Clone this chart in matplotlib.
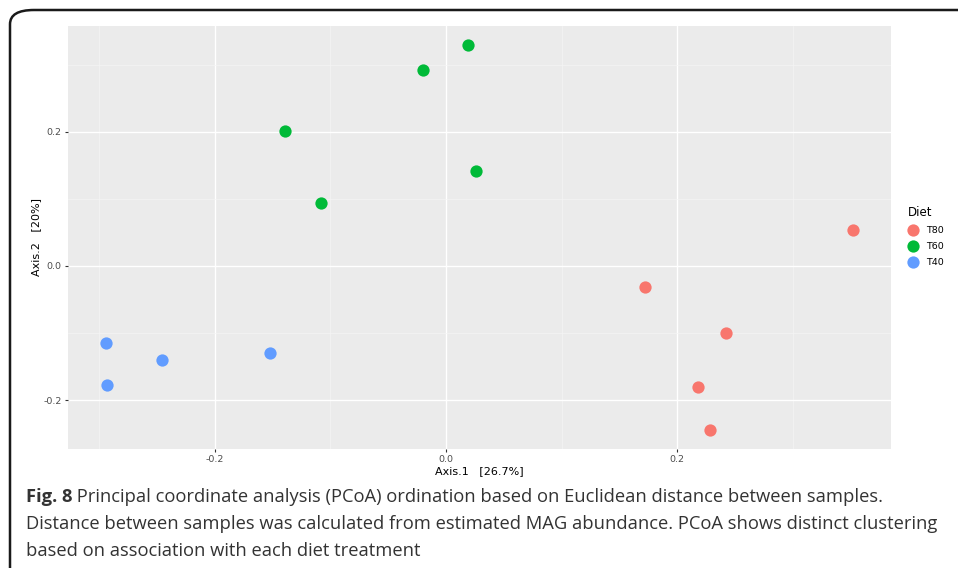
import matplotlib
matplotlib.use("Agg")
import matplotlib.pyplot as plt
from matplotlib.patches import FancyBboxPatch

# PCoA coordinates
t80_x = [0.352, 0.172, 0.242, 0.218, 0.228]
t80_y = [0.054, -0.031, -0.100, -0.181, -0.245]
t60_x = [0.019, -0.020, -0.139, 0.026, -0.108]
t60_y = [0.330, 0.293, 0.201, 0.142, 0.094]
t40_x = [-0.294, -0.293, -0.246, -0.152]
t40_y = [-0.115, -0.178, -0.140, -0.130]

groups = ["T80", "T60", "T40"]
colors = ["#F8766D", "#00BA38", "#619CFF"]
ticks = [-0.2, 0.0, 0.2]
minor_x = [-0.3, -0.1, 0.1, 0.3]
minor_y = [-0.1, 0.1, 0.3]

caption_bold = "Fig. 8"
caption_lines = [
    " Principal coordinate analysis (PCoA) ordination based on Euclidean distance between samples.",
    "Distance between samples was calculated from estimated MAG abundance. PCoA shows distinct clustering",
    "based on association with each diet treatment",
]

W, H = 958, 568
fig = plt.figure(figsize=(W / 100, H / 100), dpi=100)
fig.patch.set_facecolor("white")

# rounded border around the figure
border = FancyBboxPatch((10 / W, -0.1), 1.2, (H - 10) / H + 0.1,
                        boxstyle="round,pad=0,rounding_size=0.025",
                        transform=fig.transFigure, fill=False,
                        edgecolor="#1a1a1a", linewidth=1.8, zorder=0)
fig.patches.append(border)

ax = fig.add_axes([68 / W, (H - 449) / H, (891 - 68) / W, (449 - 26) / H])
ax.set_facecolor("#EBEBEB")
for s in ax.spines.values():
    s.set_visible(False)

ax.set_xticks(ticks)
ax.set_yticks(ticks)
ax.set_xticks(minor_x, minor=True)
ax.set_yticks(minor_y, minor=True)
ax.set_xticklabels(["-0.2", "0.0", "0.2"])
ax.set_yticklabels(["-0.2", "0.0", "0.2"])
# limits after the ticks so set_ticks can't widen them
ax.set_xlim(-0.327, 0.385)
ax.set_ylim(-0.273, 0.358)
ax.grid(which="major", color="white", linewidth=1.0)
ax.grid(which="minor", color="#F5F5F5", linewidth=0.5)
ax.set_axisbelow(True)
ax.tick_params(which="major", length=2.5, width=0.8, color="#333333",
               labelsize=6.8, labelcolor="#4D4D4D", pad=2)
ax.tick_params(which="minor", length=0)

xs = [t80_x, t60_x, t40_x]
ys = [t80_y, t60_y, t40_y]
for g, c, x, y in zip(groups, colors, xs, ys):
    ax.scatter(x, y, s=78, color=c, label=g, linewidths=0, zorder=3)

ax.set_xlabel("Axis.1   [26.7%]", fontsize=8, labelpad=1)
ax.set_ylabel("Axis.2   [20%]", fontsize=8, labelpad=2)

leg = ax.legend(title="Diet", loc="upper left", bbox_to_anchor=(901 / W, (H - 199) / H),
                bbox_transform=fig.transFigure, frameon=False, fontsize=6.8,
                title_fontsize=8.5, markerscale=1.0, handletextpad=0.8,
                labelspacing=0.75, borderpad=0.2, handlelength=1.2)
leg._legend_box.align = "left"

# caption
fig.canvas.draw()
r = fig.canvas.get_renderer()
y0 = 497
cap_kw = dict(family="Open Sans", fontsize=13.2, color="#333333", va="center")
tb = fig.text(26 / W, 1 - y0 / H, caption_bold, fontweight="bold", **cap_kw)
bb = tb.get_window_extent(r)
fig.text(bb.x1 / W, 1 - y0 / H, caption_lines[0], **cap_kw)
fig.text(26 / W, 1 - (y0 + 27) / H, caption_lines[1], **cap_kw)
fig.text(26 / W, 1 - (y0 + 54) / H, caption_lines[2], **cap_kw)

fig.savefig("out.png", dpi=100)
